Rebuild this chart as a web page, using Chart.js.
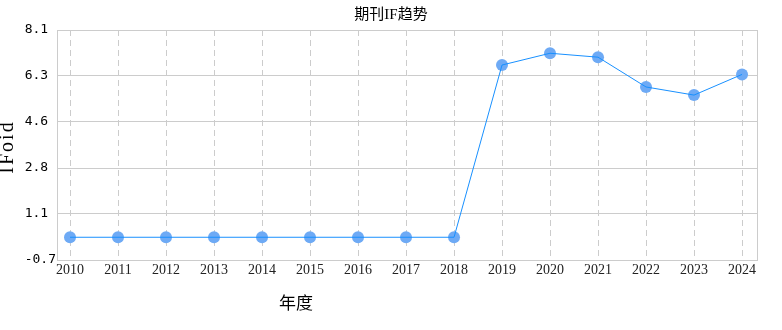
<!DOCTYPE html>
<html>
<head>
<meta charset="utf-8">
<script src="https://cdn.jsdelivr.net/npm/chart.js@4"></script>
<style>
  html, body { margin: 0; padding: 0; background: #fff; }
  #wrap { width: 782px; height: 330px; position: relative; }
</style>
</head>
<body>
<div id="wrap"><canvas id="c" width="782" height="330"></canvas></div>
<script>
const years = [2010, 2011, 2012, 2013, 2014, 2015, 2016, 2017, 2018, 2019, 2020, 2021, 2022, 2023, 2024];
const ifValues = [0.17, 0.17, 0.17, 0.17, 0.17, 0.17, 0.17, 0.17, 0.17, 6.76, 7.21, 7.06, 5.92, 5.61, 6.40];
const yTicks = [-0.7, 1.06, 2.82, 4.58, 6.34, 8.1];
const titleText = '期刊IF趋势';
const yTitle = 'IFoid';
const xTitle = '年度';

const points = years.map((y, i) => ({ x: y, y: ifValues[i] }));

const framePlugin = {
  id: 'frame',
  beforeDatasetsDraw(chart) {
    const { ctx, chartArea: a } = chart;
    ctx.save();
    ctx.strokeStyle = '#cccccc';
    ctx.lineWidth = 1;
    ctx.beginPath();
    ctx.moveTo(Math.round(a.right) + 0.5, a.top);
    ctx.lineTo(Math.round(a.right) + 0.5, a.bottom);
    ctx.stroke();
    ctx.restore();
  },
  afterDraw(chart) {
    const { ctx } = chart;
    ctx.save();
    ctx.fillStyle = '#000';
    ctx.font = '17px "Liberation Serif", "Noto Sans CJK SC", serif';
    ctx.textAlign = 'center';
    ctx.textBaseline = 'middle';
    ctx.fillText(xTitle, 296, 305);
    ctx.restore();

    ctx.save();
    ctx.fillStyle = '#000';
    ctx.font = '20px "Liberation Serif", serif';
    ctx.letterSpacing = '2px';
    ctx.textAlign = 'center';
    ctx.textBaseline = 'middle';
    ctx.translate(8, 148);
    ctx.rotate(-Math.PI / 2);
    ctx.fillText(yTitle, 1, 0);
    ctx.restore();
  }
};

new Chart(document.getElementById('c'), {
  type: 'line',
  data: {
    datasets: [
      {
        data: points,
        borderColor: '#1890ff',
        borderWidth: 1,
        pointRadius: 0,
        fill: false,
        tension: 0,
        order: 1
      },
      {
        data: points,
        showLine: false,
        pointRadius: 6,
        pointBackgroundColor: '#6eaaf5',
        pointBorderWidth: 0,
        pointBorderColor: '#6eaaf5',
        order: 2
      }
    ]
  },
  options: {
    responsive: false,
    animation: false,
    layout: { padding: 0 },
    plugins: {
      legend: { display: false },
      tooltip: { enabled: false },
      title: {
        display: true,
        text: titleText,
        color: '#000',
        font: { family: '"Liberation Serif", "Noto Sans CJK SC", serif', size: 15, weight: 'normal', lineHeight: 1.2 },
        padding: { top: 6, bottom: 6 }
      }
    },
    scales: {
      x: {
        type: 'linear',
        min: 2009.729,
        max: 2024.312,
        afterBuildTicks(scale) { scale.ticks = years.map(v => ({ value: v })); },
        afterFit(scale) { scale.height = 70; },
        ticks: {
          color: '#222',
          font: { family: '"Liberation Serif", serif', size: 14 },
          padding: 2,
          maxRotation: 0,
          autoSkip: false,
          callback: v => String(v)
        },
        grid: { color: '#cccccc', lineWidth: 1, drawTicks: false },
        border: { display: true, color: '#cccccc', dash: [6, 4] }
      },
      y: {
        min: -0.7,
        max: 8.1,
        afterBuildTicks(scale) { scale.ticks = yTicks.map(v => ({ value: v })); },
        afterFit(scale) { scale.width = 57; },
        ticks: {
          color: '#000',
          font: { family: '"DejaVu Sans Mono", monospace', size: 13 },
          padding: 1,
          callback: v => Number(v).toFixed(1).padEnd(4, ' ')
        },
        grid: { color: '#cccccc', lineWidth: 1, drawTicks: false },
        border: { display: true, color: '#cccccc' },
        title: { display: false }
      },
      yRight: {
        position: 'right',
        min: -0.7,
        max: 8.1,
        afterFit(scale) { scale.width = 25; },
        ticks: { display: false },
        grid: { display: false, drawTicks: false },
        border: { display: false }
      }
    }
  },
  plugins: [framePlugin]
});
</script>
</body>
</html>
